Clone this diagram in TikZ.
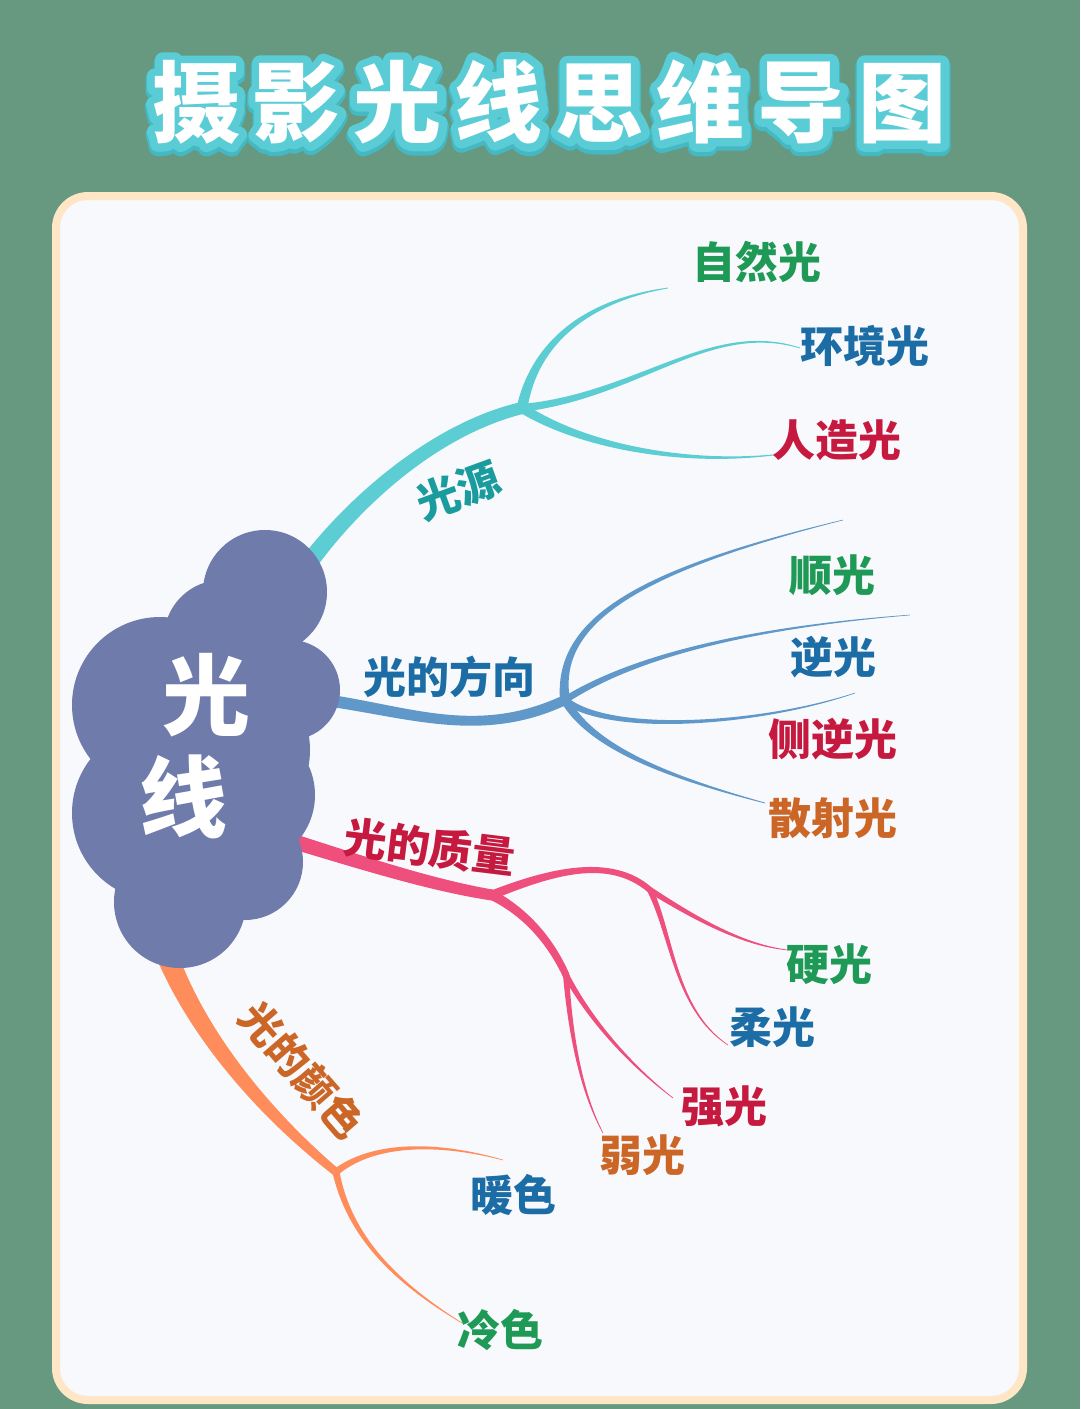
\documentclass[tikz,border=0pt]{standalone}
\usepackage{fontspec}
\newfontfamily\cjk{Noto Sans CJK SC}
\newfontfamily\cjkhalo{Noto Sans CJK SC}[FakeBold=18]
\newfontfamily\cjkshade{Noto Sans CJK SC}[FakeBold=21]
\usetikzlibrary{calc}

\definecolor{bggreen}{HTML}{669980}
\definecolor{peach}{HTML}{FFE6C6}
\definecolor{panel}{HTML}{F8F9FC}
\definecolor{cloudc}{HTML}{6E7BAB}
\definecolor{titleout}{HTML}{5ACCD5}
\definecolor{titleshade}{HTML}{45B9C3}
\definecolor{cyanbr}{HTML}{5CCDD3}
\definecolor{bluebr}{HTML}{5F98C9}
\definecolor{pinkbr}{HTML}{EE4F7D}
\definecolor{orangebr}{HTML}{FF8D5C}
\definecolor{tgreen}{HTML}{1E9A56}
\definecolor{tblue}{HTML}{1C6DA6}
\definecolor{tred}{HTML}{C6193F}
\definecolor{torange}{HTML}{CC6626}
\definecolor{tteal}{HTML}{1A9C9E}

% tapered branch: colour, start half width, end half width, start, control 1, control 2, end
\newcommand{\drawbranch}[7]{%
  \pgfmathsetlengthmacro\wone{(2*#2+#3)/3}%
  \pgfmathsetlengthmacro\wtwo{(#2+2*#3)/3}%
  \fill[#1] ($(#4)!#2!90:(#5)$) .. controls ($(#5)!\wone!90:(#6)$) and ($(#6)!\wtwo!90:(#7)$) .. ($(#7)!#3!-90:(#6)$)
    -- ($(#7)!#3!90:(#6)$) .. controls ($(#6)!\wtwo!-90:(#7)$) and ($(#5)!\wone!-90:(#6)$) .. ($(#4)!#2!-90:(#5)$) -- cycle;
}
\newcommand{\titlestring}{摄\hspace{13pt}影\hspace{13pt}光\hspace{13pt}线\hspace{13pt}思\hspace{13pt}维\hspace{13pt}导\hspace{13pt}图}

\begin{document}
\begin{tikzpicture}[x=1pt,y=-1pt]
        \tikzstyle{titletext} = [font=\bfseries\fontsize{88}{88}\selectfont, inner sep=0pt, line join=round];
        \tikzstyle{roottext} = [font=\cjk\bfseries\fontsize{88}{88}\selectfont, inner sep=0pt, text=white];
        \tikzstyle{stemtext} = [font=\cjk\bfseries\fontsize{43}{43}\selectfont, inner sep=0pt];
        \tikzstyle{leaftext} = [font=\cjk\bfseries\fontsize{43}{43}\selectfont, inner sep=0pt];

        \useasboundingbox (0,0) rectangle (1080,1409);
        \fill[bggreen] (0,0) rectangle (1080,1409);
        \filldraw[fill=panel, draw=peach, line width=8pt, rounded corners=32pt] (56,196) rectangle (1023,1400);

        % title
        \node(titleshade) [titletext, text=titleshade] at (549.5,105) {\cjkshade\titlestring};
        \node(titlehalo) [titletext, text=titleout] at (549.5,102) {\cjkhalo\titlestring};
        \node(title) [titletext, text=white] at (549.5,102) {\cjk\titlestring};

        % roots, junctions and tips
        \coordinate (rsrc) at (300,575);
        \coordinate (rdir) at (325,700);
        \coordinate (rq) at (295,842);
        \coordinate (rcol) at (165,950);
        \coordinate (jsrc) at (522,408);
        \coordinate (jdir) at (565,700);
        \coordinate (jq1) at (492,895);
        \coordinate (jq2) at (650,890);
        \coordinate (jq3) at (566,975);
        \coordinate (jcol) at (336,1172);
        \coordinate (tipziran) at (668,288);
        \coordinate (tiphuanjing) at (800,348);
        \coordinate (tiprenzao) at (773,455);
        \coordinate (tipshun) at (843,520);
        \coordinate (tipni) at (910,615);
        \coordinate (tipce) at (855,693);
        \coordinate (tipsanshe) at (765,803);
        \coordinate (tipying) at (788,950);
        \coordinate (tiprou) at (728,1045);
        \coordinate (tipqiang) at (673,1098);
        \coordinate (tipruo) at (603,1133);
        \coordinate (tipnuan) at (503,1160);
        \coordinate (tipleng) at (462,1323);

        % light source
        \drawbranch{cyanbr}{9pt}{6pt}{rsrc}{345,510}{430,430}{jsrc}
        \drawbranch{cyanbr}{5.5pt}{0.4pt}{jsrc}{535,340}{590,300}{tipziran}
        \drawbranch{cyanbr}{4pt}{0.4pt}{jsrc}{640,395}{710,320}{tiphuanjing}
        \drawbranch{cyanbr}{5pt}{0.5pt}{jsrc}{580,445}{680,465}{tiprenzao}
        \fill[cyanbr] (jsrc) circle[radius=6];

        % direction
        \drawbranch{bluebr}{6pt}{5pt}{rdir}{410,712}{480,740}{jdir}
        \drawbranch{bluebr}{5pt}{0.3pt}{jdir}{555,620}{640,570}{tipshun}
        \drawbranch{bluebr}{3.5pt}{0.3pt}{jdir}{620,665}{720,630}{tipni}
        \drawbranch{bluebr}{3.5pt}{0.3pt}{jdir}{610,735}{760,725}{tipce}
        \drawbranch{bluebr}{4.5pt}{0.4pt}{jdir}{590,745}{660,775}{tipsanshe}
        \fill[bluebr] (jdir) circle[radius=5];

        % quality
        \drawbranch{pinkbr}{7.5pt}{5.5pt}{rq}{360,862}{430,885}{jq1}
        \drawbranch{pinkbr}{4.5pt}{3pt}{jq1}{550,872}{610,855}{jq2}
        \drawbranch{pinkbr}{3pt}{0.3pt}{jq2}{690,915}{740,945}{tipying}
        \drawbranch{pinkbr}{3pt}{0.3pt}{jq2}{672,935}{675,1010}{tiprou}
        \drawbranch{pinkbr}{5pt}{3.5pt}{jq1}{525,912}{550,940}{jq3}
        \drawbranch{pinkbr}{3pt}{0.3pt}{jq3}{590,1020}{630,1065}{tipqiang}
        \drawbranch{pinkbr}{3pt}{0.3pt}{jq3}{570,1030}{580,1090}{tipruo}
        \fill[pinkbr] (jq1) circle[radius=5.5] (jq2) circle[radius=3] (jq3) circle[radius=3.5];

        % colour
        \drawbranch{orangebr}{11pt}{4pt}{rcol}{195,1030}{260,1110}{jcol}
        \drawbranch{orangebr}{3.5pt}{0.3pt}{jcol}{370,1145}{430,1140}{tipnuan}
        \drawbranch{orangebr}{3.5pt}{0.3pt}{jcol}{350,1240}{400,1285}{tipleng}
        \fill[orangebr] (jcol) circle[radius=4];

        % cloud
        \fill[cloudc] (265,592) circle[radius=62] (222,638) circle[radius=58]
            (160,705) circle[radius=88] (290,690) circle[radius=50]
            (160,813) circle[radius=88] (245,795) circle[radius=70]
            (245,862) circle[radius=58] (180,902) circle[radius=66]
            (220,750) circle[radius=90];
        \node(rootA) [roottext] at (206,695) {光};
        \node(rootB) [roottext] at (183,797) {线};

        % main labels
        \node(source) [stemtext, text=tteal, rotate=20] at (458,490) {光源};
        \node(direction) [stemtext, text=tblue] at (449,677) {光的方向};
        \node(quality) [stemtext, text=tred, rotate=-7] at (430,847) {光的质量};
        \node(colour) [stemtext, text=torange, rotate=-49, font=\cjk\bfseries\fontsize{41}{41}\selectfont] at (302,1070) {光的颜色};

        % leaves
        \node(ziran) [leaftext, text=tgreen] at (757,262) {自然光};
        \node(huanjing) [leaftext, text=tblue] at (865,346) {环境光};
        \node(renzao) [leaftext, text=tred] at (837,440) {人造光};
        \node(shun) [leaftext, text=tgreen] at (832,575) {顺光};
        \node(ni) [leaftext, text=tblue] at (833,657) {逆光};
        \node(ceni) [leaftext, text=tred] at (833,739) {侧逆光};
        \node(sanshe) [leaftext, text=torange] at (833,818) {散射光};
        \node(ying) [leaftext, text=tgreen] at (829,964) {硬光};
        \node(rou) [leaftext, text=tblue] at (772,1027) {柔光};
        \node(qiang) [leaftext, text=tred] at (724,1106) {强光};
        \node(ruo) [leaftext, text=torange] at (642,1155) {弱光};
        \node(nuan) [leaftext, text=tblue] at (513,1195) {暖色};
        \node(leng) [leaftext, text=tgreen] at (500,1330) {冷色};

    \end{tikzpicture}
\end{document}
